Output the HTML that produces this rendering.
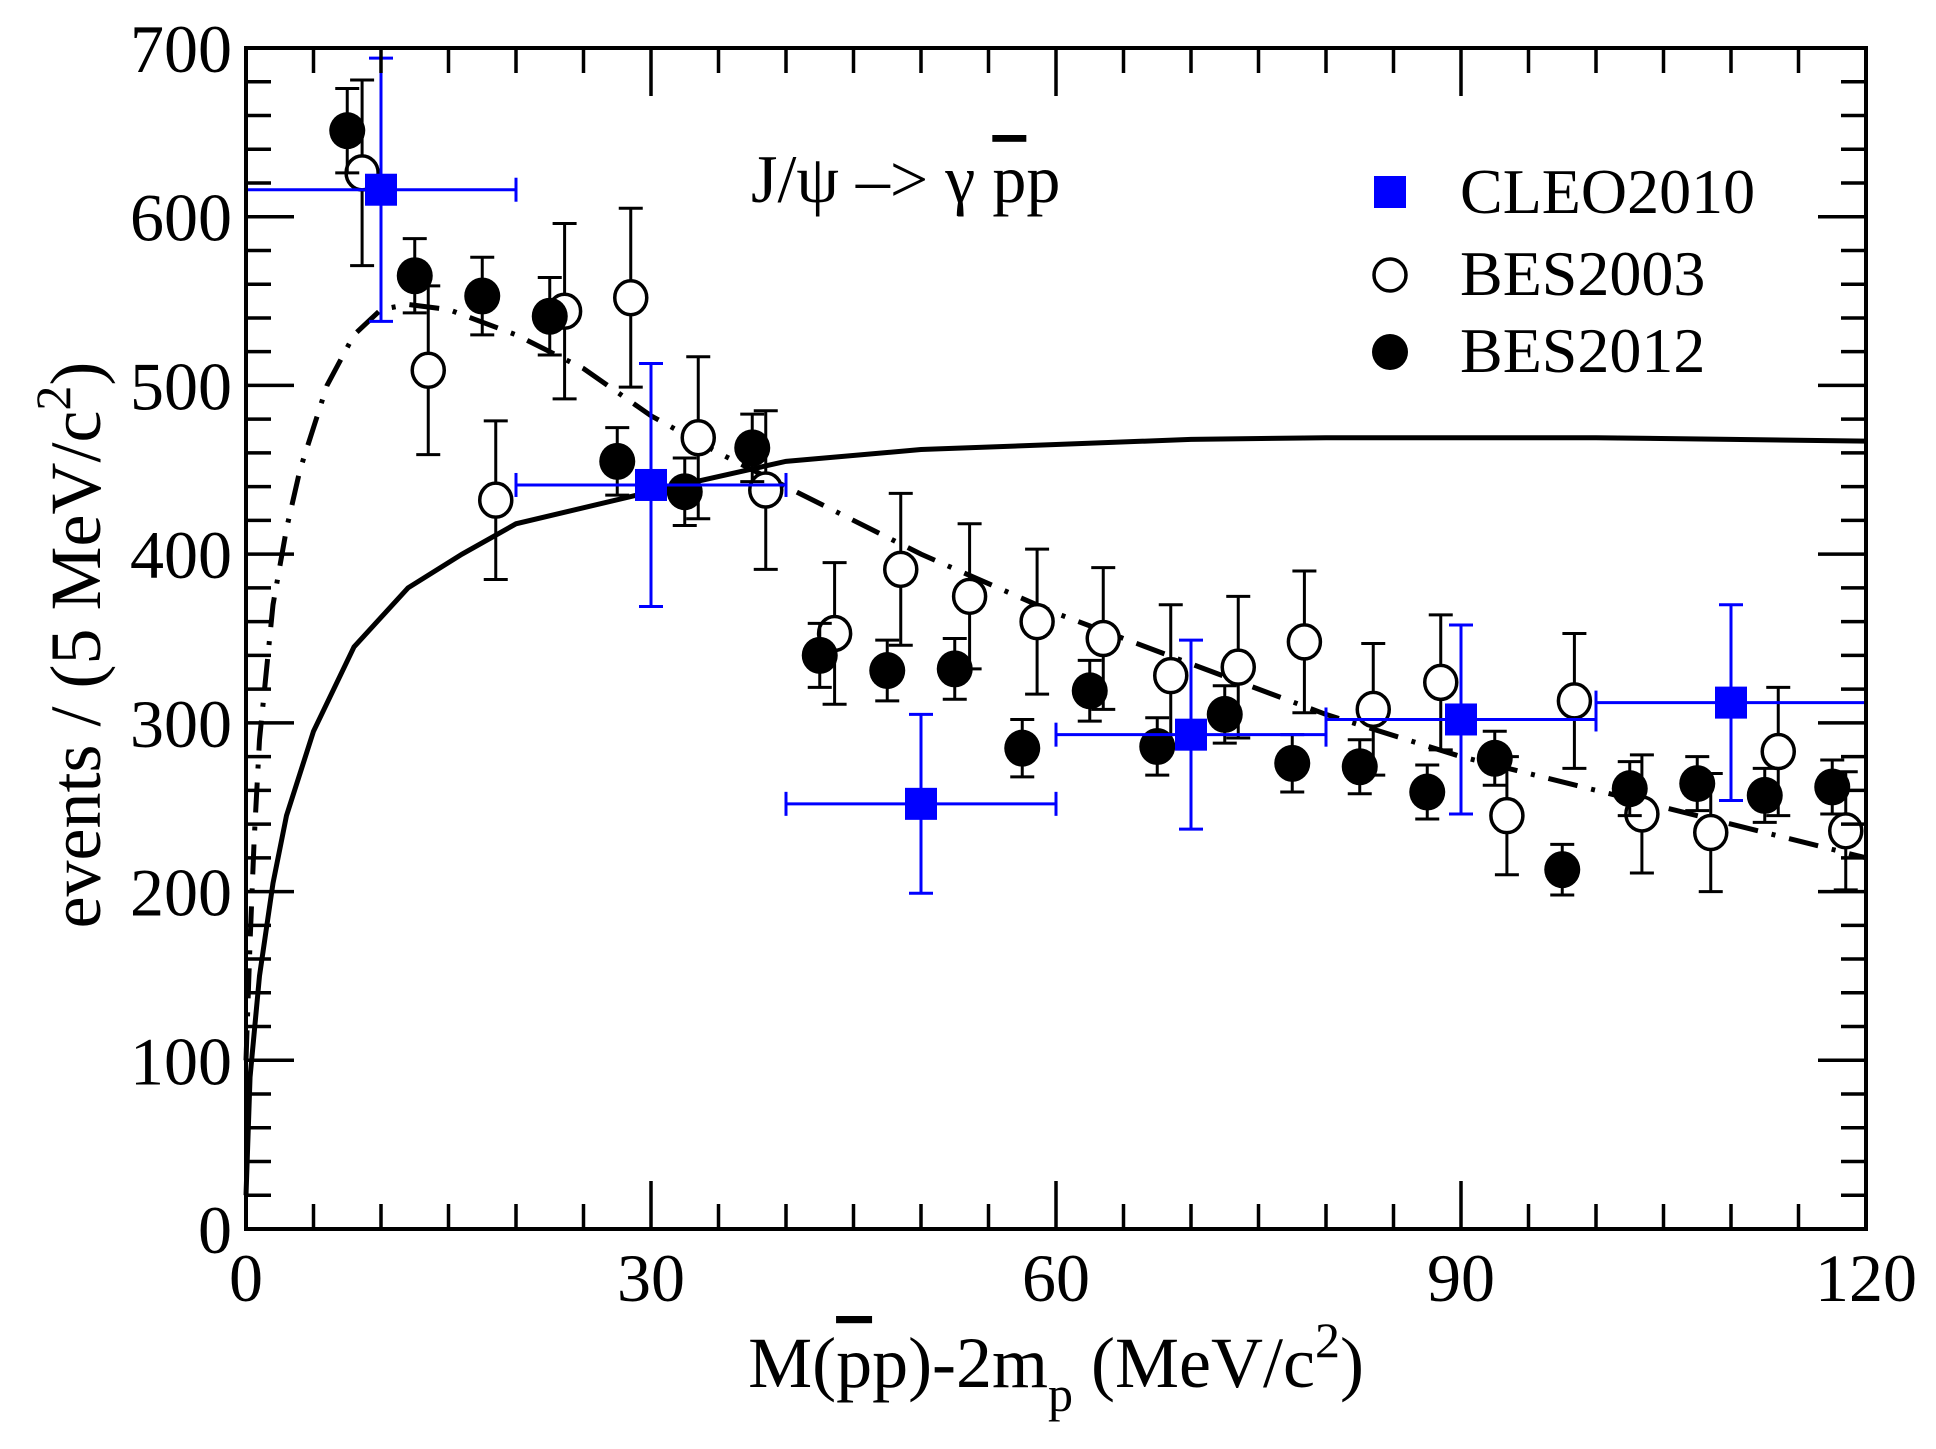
<!DOCTYPE html>
<html><head><meta charset="utf-8"><style>
html,body{margin:0;padding:0;background:#fff;}
svg{display:block;font-family:"Liberation Serif",serif;}
</style></head><body>
<svg id="chart" width="1936" height="1449" viewBox="0 0 1936 1449" xmlns="http://www.w3.org/2000/svg">
<rect x="0" y="0" width="1936" height="1449" fill="#fff"/>
<g id="curves"></g>
<g id="marks"></g>
<g id="axes"></g>
<text x="751" y="202" font-size="68">J/ψ –&gt; γ <tspan text-decoration="overline">p</tspan>p</text>
<g>
  <rect x="1374" y="176" width="32" height="32" fill="#0000ff"/>
  <text x="1460" y="213" font-size="64">CLEO2010</text>
  <circle cx="1390" cy="275" r="16" fill="#fff" stroke="#000" stroke-width="3.5"/>
  <text x="1460" y="295" font-size="64">BES2003</text>
  <circle cx="1390" cy="352" r="18" fill="#000"/>
  <text x="1460" y="372" font-size="64">BES2012</text>
</g>
<text transform="translate(100,645) rotate(-90)" text-anchor="middle" font-size="72">events / (5 MeV/c<tspan dy="-30" font-size="50">2</tspan><tspan dy="30">)</tspan></text>
<text x="1056" y="1387" text-anchor="middle" font-size="72">M(<tspan text-decoration="overline">p</tspan>p)-2m<tspan dy="24" font-size="50">p</tspan><tspan dy="-24"> (MeV/c</tspan><tspan dy="-30" font-size="50">2</tspan><tspan dy="30">)</tspan></text>
<script>
const besNewX=[7.5,12.5,17.5,22.5,27.5,32.5,37.5,42.5,47.5,52.5,57.5,62.5,67.5,72.5,77.5,82.5,87.5,92.5,97.5,102.5,107.5,112.5,117.5];
const besNewY=[651,565,553,541,455,437,463,340,331,332,285,319,286,305,276,274,259,279,213,261,264,257,262];
const besNewErr=[25,22,23,23,20,20,20,19,18,18,17,18,17,17,17,16,16,16,15,16,16,16,16];
const besOldX=[8.6,13.5,18.5,23.6,28.5,33.5,38.5,43.6,48.5,53.6,58.6,63.5,68.5,73.5,78.4,83.5,88.5,93.4,98.4,103.4,108.5,113.5,118.5];
const besOldY=[626,509,432,544,552,469,438,353,391,375,360,350,328,333,348,308,324,245,313,246,235,283,236];
const besOldErr=[55,50,47,52,53,48,47,42,45,43,43,42,42,42,42,39,40,35,40,35,35,38,35];
const cleoX=[10,30,50,70,90,110];
const cleoXErr=[10,10,10,10,10,10];
const cleoY=[616,441,252,293,302,312];
const cleoYErr=[78,72,53,56,56,58];
const solidX=[0,0.3,1,2,3,5,8,12,16,20,30,40,50,60,70,80,90,100,110,120];
const solidY=[20,90,150,205,245,295,345,380,400,418,437,455,462,465,468,469,469,469,468,467];
const dashX=[0,0.3,0.6,1,2,3,4,6,8,10,12,15,20,25,30,35,40,50,60,70,80,90,100,110,120];
const dashY=[100,170,230,290,370,415,450,500,530,545,548,545,530,510,482,460,440,400,365,335,305,280,260,240,220];
const xTicks=[0,30,60,90,120];
const yTicks=[0,100,200,300,400,500,600,700];

const L=246,R=1866,T=48,B=1229;
const sx=v=>L+(v-0)/120*(R-L);
const sy=v=>B-(v-0)/700*(B-T);
const NS='http://www.w3.org/2000/svg';
function mk(tag,attrs,parent){const e=document.createElementNS(NS,tag);for(const k in attrs)e.setAttribute(k,attrs[k]);parent.appendChild(e);return e;}
const gc=document.getElementById('curves'),gm=document.getElementById('marks'),ga=document.getElementById('axes');

let e;
e=mk('path',{d:solidX.map((x,i)=>(i?'L':'M')+sx(x)+','+sy(solidY[i])).join(''),fill:'none',stroke:'#000','stroke-width':5},gc);


e=mk('path',{d:dashX.map((x,i)=>(i?'L':'M')+sx(x)+','+sy(dashY[i])).join(''),fill:'none',stroke:'#000','stroke-width':5,'stroke-dasharray':'30,14,4,14'},gc);



function errV(x,y,err,color,parent){
  const c=sx(x);
  mk('line',{x1:c,x2:c,y1:sy(y-err),y2:sy(y+err),stroke:color,'stroke-width':3},parent);
  mk('line',{x1:c-12,x2:c+12,y1:sy(y-err),y2:sy(y-err),stroke:color,'stroke-width':3},parent);
  mk('line',{x1:c-12,x2:c+12,y1:sy(y+err),y2:sy(y+err),stroke:color,'stroke-width':3},parent);
}
besOldX.forEach((x,i)=>{
  const g=mk('g',{},gm);
  
  
  errV(x,besOldY[i],besOldErr[i],'#000',g);
  mk('ellipse',{cx:sx(x),cy:sy(besOldY[i]),rx:16,ry:17,fill:'#fff',stroke:'#000','stroke-width':3.5},g);
});
besNewX.forEach((x,i)=>{
  const g=mk('g',{},gm);
  
  
  errV(x,besNewY[i],besNewErr[i],'#000',g);
  mk('ellipse',{cx:sx(x),cy:sy(besNewY[i]),rx:18,ry:18.5,fill:'#000'},g);
});
cleoX.forEach((x,i)=>{
  const g=mk('g',{},gm);
  
  
  errV(x,cleoY[i],cleoYErr[i],'#0000ff',g);
  const y=sy(cleoY[i]),x1=sx(x-cleoXErr[i]),x2=sx(x+cleoXErr[i]);
  mk('line',{x1:x1,x2:x2,y1:y,y2:y,stroke:'#0000ff','stroke-width':3},g);
  mk('line',{x1:x1,x2:x1,y1:y-12,y2:y+12,stroke:'#0000ff','stroke-width':3},g);
  mk('line',{x1:x2,x2:x2,y1:y-12,y2:y+12,stroke:'#0000ff','stroke-width':3},g);
  mk('rect',{x:sx(x)-16,y:y-16,width:32,height:32,fill:'#0000ff'},g);
});

e=mk('rect',{x:L,y:T,width:R-L,height:B-T,fill:'none',stroke:'#000','stroke-width':4},ga);


for(let v=0;v<=120;v+=5){
  const len=(v%30===0)?48:25,x=sx(v);
  mk('line',{x1:x,x2:x,y1:B,y2:B-len,stroke:'#000','stroke-width':3.5},ga);
  mk('line',{x1:x,x2:x,y1:T,y2:T+len,stroke:'#000','stroke-width':3.5},ga);
}
for(let v=0;v<=700;v+=20){
  const len=(v%100===0)?48:25,y=sy(v);
  mk('line',{x1:L,x2:L+len,y1:y,y2:y,stroke:'#000','stroke-width':3.5},ga);
  mk('line',{x1:R,x2:R-len,y1:y,y2:y,stroke:'#000','stroke-width':3.5},ga);
}
xTicks.forEach(v=>{
  const t=mk('text',{x:sx(v),y:B+72,'text-anchor':'middle','font-size':68},ga);
  t.textContent=v;
  
  
});
yTicks.forEach(v=>{
  const t=mk('text',{x:L-14,y:sy(v)+24,'text-anchor':'end','font-size':68},ga);
  t.textContent=v;
  
  
});
</script>
</svg>
</body></html>
